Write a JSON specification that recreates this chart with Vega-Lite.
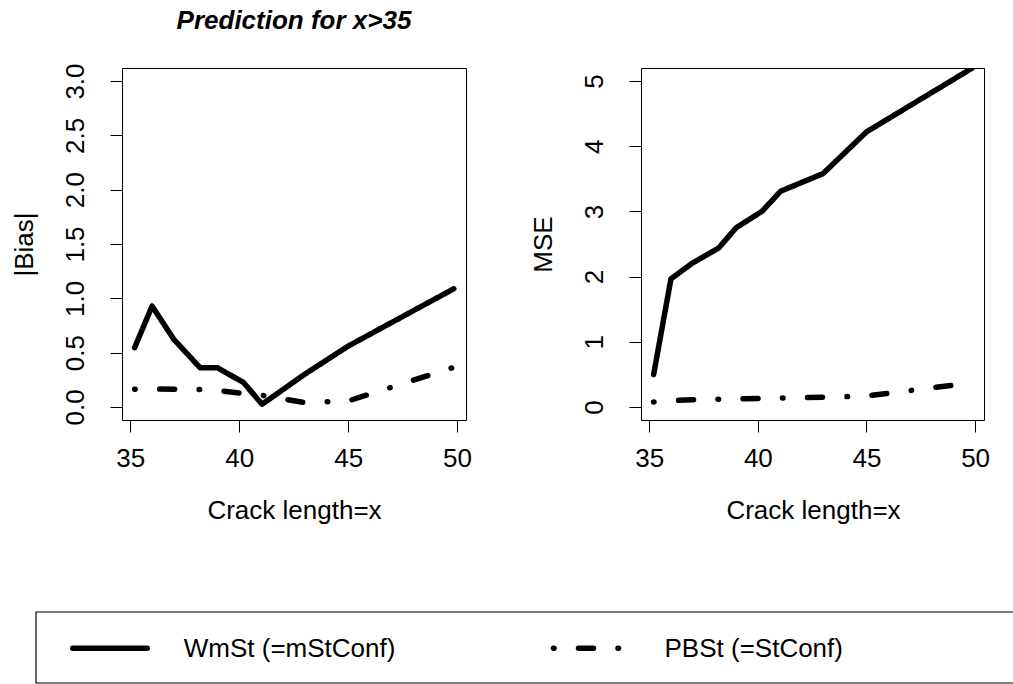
{
  "$schema": "https://vega.github.io/schema/vega-lite/v6.json",
  "autosize": {"type": "none"},
  "padding": {"left": 122, "top": 68, "right": 891, "bottom": 616},
  "config": {
    "font": "Liberation Sans",
    "view": {"stroke": "black", "strokeWidth": 1},
    "axis": {
      "domain": false,
      "grid": false,
      "tickColor": "black",
      "tickSize": 12,
      "tickWidth": 1,
      "labelColor": "black",
      "labelFontSize": 26,
      "labelFlush": false,
      "labelOverlap": false,
      "titleColor": "black",
      "titleFontSize": 26,
      "titleFontWeight": "normal"
    },
    "axisX": {
      "labelAlign": "center",
      "labelBaseline": "top",
      "labelPadding": 13.5,
      "titleAlign": "center",
      "titleBaseline": "alphabetic",
      "titleX": 172,
      "titleY": 98
    },
    "axisY": {
      "labelAngle": 270,
      "labelAlign": "center",
      "labelBaseline": "alphabetic",
      "labelPadding": 27,
      "titleAngle": 270,
      "titleAlign": "center",
      "titleBaseline": "alphabetic",
      "titleX": -90,
      "titleY": 176
    }
  },
  "datasets": {
    "crack": [
      {"len": 35.2, "method": "WmSt (=mStConf)", "bias": 0.546, "mse": 0.496},
      {"len": 36.0, "method": "WmSt (=mStConf)", "bias": 0.928, "mse": 1.966},
      {"len": 37.0, "method": "WmSt (=mStConf)", "bias": 0.622, "mse": 2.211},
      {"len": 38.2, "method": "WmSt (=mStConf)", "bias": 0.362, "mse": 2.44},
      {"len": 39.0, "method": "WmSt (=mStConf)", "bias": 0.362, "mse": 2.749},
      {"len": 40.2, "method": "WmSt (=mStConf)", "bias": 0.224, "mse": 3.004},
      {"len": 41.05, "method": "WmSt (=mStConf)", "bias": 0.025, "mse": 3.31},
      {"len": 43.0, "method": "WmSt (=mStConf)", "bias": 0.3, "mse": 3.58},
      {"len": 45.0, "method": "WmSt (=mStConf)", "bias": 0.56, "mse": 4.22},
      {"len": 49.85, "method": "WmSt (=mStConf)", "bias": 1.088, "mse": 5.195},
      {"len": 35.2, "method": "PBSt (=StConf)", "bias": 0.163, "mse": 0.077},
      {"len": 36.0, "method": "PBSt (=StConf)", "bias": 0.165, "mse": 0.097},
      {"len": 37.0, "method": "PBSt (=StConf)", "bias": 0.163, "mse": 0.11},
      {"len": 38.2, "method": "PBSt (=StConf)", "bias": 0.16, "mse": 0.12},
      {"len": 39.0, "method": "PBSt (=StConf)", "bias": 0.15, "mse": 0.125},
      {"len": 40.2, "method": "PBSt (=StConf)", "bias": 0.125, "mse": 0.13},
      {"len": 41.05, "method": "PBSt (=StConf)", "bias": 0.107, "mse": 0.138},
      {"len": 43.0, "method": "PBSt (=StConf)", "bias": 0.04, "mse": 0.148},
      {"len": 45.0, "method": "PBSt (=StConf)", "bias": 0.055, "mse": 0.168},
      {"len": 49.85, "method": "PBSt (=StConf)", "bias": 0.365, "mse": 0.37}
    ],
    "key": [
      {"method": "WmSt (=mStConf)"},
      {"method": "PBSt (=StConf)"}
    ]
  },
  "bounds": "flush",
  "spacing": 544,
  "vconcat": [
    {
      "bounds": "flush",
      "spacing": 175,
      "hconcat": [
        {
          "width": 344,
          "height": 352,
          "title": {
            "text": "Prediction for x>35",
            "frame": "group",
            "anchor": "middle",
            "baseline": "alphabetic",
            "offset": 7.5,
            "fontSize": 26,
            "fontWeight": "bold",
            "fontStyle": "italic",
            "color": "black"
          },
          "data": {"name": "crack"},
          "mark": {"type": "line", "color": "black", "strokeWidth": 5.5, "strokeCap": "round", "strokeJoin": "round", "clip": true},
          "encoding": {
            "x": {
              "field": "len",
              "type": "quantitative",
              "title": "Crack length=x",
              "scale": {"domain": [34.62, 50.41], "nice": false, "zero": false},
              "axis": {"values": [35, 40, 45, 50]}
            },
            "y": {
              "field": "bias",
              "type": "quantitative",
              "title": "|Bias|",
              "scale": {"domain": [-0.12, 3.12], "nice": false, "zero": false},
              "axis": {"values": [0, 0.5, 1, 1.5, 2, 2.5, 3], "format": ".1f"}
            },
            "strokeDash": {
              "field": "method",
              "type": "nominal",
              "scale": {"domain": ["WmSt (=mStConf)", "PBSt (=StConf)"], "range": [[1, 0], [0.5, 24.5, 15, 24.5]]},
              "legend": null
            }
          }
        },
        {
          "width": 343,
          "height": 352,
          "data": {"name": "crack"},
          "mark": {"type": "line", "color": "black", "strokeWidth": 5.5, "strokeCap": "round", "strokeJoin": "round", "clip": true},
          "encoding": {
            "x": {
              "field": "len",
              "type": "quantitative",
              "title": "Crack length=x",
              "scale": {"domain": [34.62, 50.41], "nice": false, "zero": false},
              "axis": {"values": [35, 40, 45, 50]}
            },
            "y": {
              "field": "mse",
              "type": "quantitative",
              "title": "MSE",
              "scale": {"domain": [-0.2, 5.2], "nice": false, "zero": false},
              "axis": {"values": [0, 1, 2, 3, 4, 5], "format": "d"}
            },
            "strokeDash": {
              "field": "method",
              "type": "nominal",
              "scale": {"domain": ["WmSt (=mStConf)", "PBSt (=StConf)"], "range": [[1, 0], [0.5, 24.5, 15, 24.5]]},
              "legend": null
            }
          }
        }
      ]
    },
    {
      "width": 891,
      "height": 71,
      "view": {"stroke": null},
      "resolve": {"scale": {"x": "independent"}},
      "layer": [
        {
          "data": {"values": [{"box": "key"}]},
          "mark": {"type": "rect", "fillOpacity": 0, "stroke": "black", "strokeWidth": 1.2},
          "encoding": {
            "x": {"datum": -0.0965, "type": "quantitative", "scale": {"domain": [0, 1]}, "axis": null},
            "x2": {"datum": 1.2},
            "y": {"datum": 0, "type": "quantitative", "scale": {"domain": [0, 1]}, "axis": null},
            "y2": {"datum": 1}
          }
        },
        {
          "data": {"name": "key"},
          "layer": [
            {
              "mark": {"type": "rule", "color": "black", "strokeWidth": 5.5, "strokeCap": "round", "x2Offset": 74.5},
              "encoding": {
                "x": {"field": "method", "type": "nominal", "scale": {"type": "point", "padding": 0, "domain": ["WmSt (=mStConf)", "PBSt (=StConf)"], "range": [-49.25, 431.5]}, "axis": null},
                "x2": {"field": "method"},
                "y": {"datum": 0.489, "type": "quantitative", "scale": {"domain": [0, 1]}, "axis": null},
                "strokeDash": {"field": "method", "type": "nominal", "legend": null}
              }
            },
            {
              "mark": {"type": "text", "align": "left", "baseline": "alphabetic", "dx": 111, "fontSize": 26, "color": "black"},
              "encoding": {
                "x": {"field": "method", "type": "nominal", "axis": null},
                "y": {"datum": 0.372, "type": "quantitative", "axis": null},
                "text": {"field": "method"}
              }
            }
          ]
        }
      ]
    }
  ]
}
